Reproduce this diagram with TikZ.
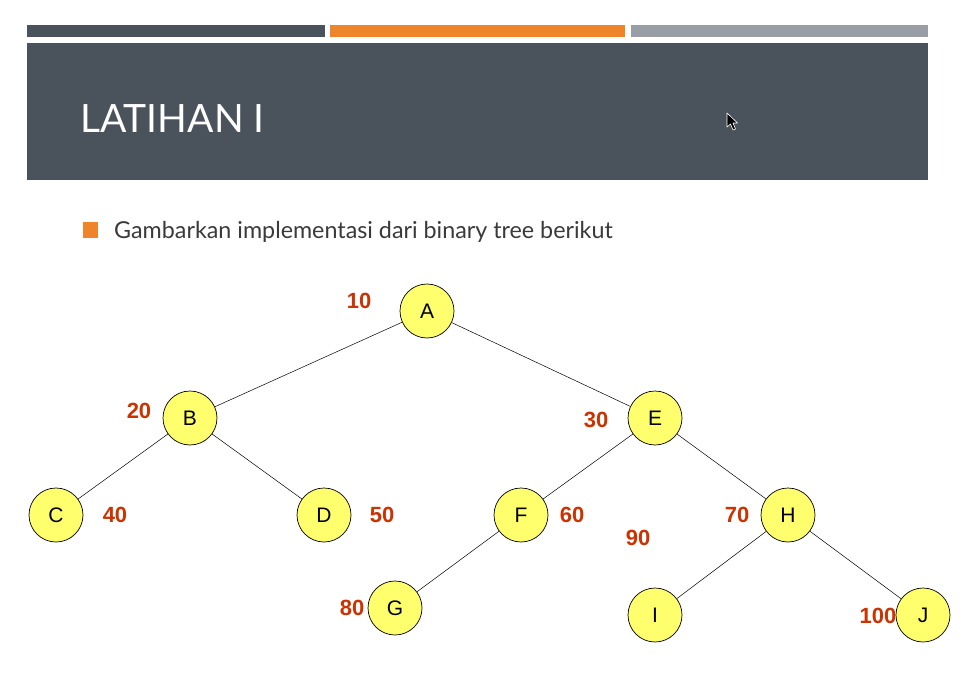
\documentclass[tikz,border=0pt]{standalone}
\usepackage{fontspec}
\setmainfont{Liberation Sans}
\newfontfamily\slidefont{Lato}
\definecolor{slatedark}{HTML}{4A535B}
\definecolor{accentorange}{HTML}{EE852A}
\definecolor{barsgray}{HTML}{989DA6}
\definecolor{bodytext}{HTML}{3A3A3A}
\definecolor{nodeyellow}{HTML}{FFFF6E}
\definecolor{keyred}{HTML}{CC3300}
\begin{document}
\begin{tikzpicture}[x=1pt,y=-1pt,
  treenode/.style={circle, draw=black, line width=0.7pt, fill=nodeyellow,
    minimum size=54pt, inner sep=0pt, font=\fontsize{21}{21}\selectfont},
  keylabel/.style={text=keyred, inner sep=0pt, font=\fontsize{22}{22}\selectfont\bfseries},
  treeedge/.style={draw=black, line width=0.5pt}]
\useasboundingbox (0,0) rectangle (961,687);
\fill[white] (0,0) rectangle (961,687);

% header bars
\fill[slatedark] (27,25) rectangle (325,37);
\fill[accentorange] (330,25) rectangle (625,37);
\fill[barsgray] (631,25) rectangle (928,37);
\fill[slatedark] (27,43) rectangle (928,180);
\node[anchor=base west, inner sep=0pt, text=white,
  font=\slidefont\fontsize{39}{39}\selectfont] (title) at (80,133) {LATIHAN I};

% pointer
\draw[white, fill=black, line width=0.6pt, line join=round]
  (727,113) -- (727,127) -- (730.5,124) -- (733,130) -- (735.5,129) -- (733,123) -- (737.5,123) -- cycle;

% bullet line
\fill[accentorange] (83,222) rectangle (98,238);
\node[anchor=base west, inner sep=0pt, text=bodytext,
  font=\slidefont\fontsize{23.3}{23.3}\selectfont] (task) at (114,238) {Gambarkan implementasi dari binary tree berikut};

% tree
\node[treenode] (A) at (427,311) {A};
\node[treenode] (B) at (190,418) {B};
\node[treenode] (E) at (655,418) {E};
\node[treenode] (C) at (56,515) {C};
\node[treenode] (D) at (324,515) {D};
\node[treenode] (F) at (521,515) {F};
\node[treenode] (H) at (788,515) {H};
\node[treenode] (G) at (395,608) {G};
\node[treenode] (I) at (655,615) {I};
\node[treenode] (J) at (923,615) {J};

\draw[treeedge] (A) -- (B);
\draw[treeedge] (A) -- (E);
\draw[treeedge] (B) -- (C);
\draw[treeedge] (B) -- (D);
\draw[treeedge] (E) -- (F);
\draw[treeedge] (E) -- (H);
\draw[treeedge] (F) -- (G);
\draw[treeedge] (H) -- (I);
\draw[treeedge] (H) -- (J);

% key values
\node[keylabel] (kA) at (359,301) {10};
\node[keylabel] (kB) at (139,411) {20};
\node[keylabel] (kE) at (596,420) {30};
\node[keylabel] (kC) at (115,515) {40};
\node[keylabel] (kD) at (382,515) {50};
\node[keylabel] (kF) at (572,515) {60};
\node[keylabel] (kH) at (737,515) {70};
\node[keylabel] (kX) at (638,538) {90};
\node[keylabel] (kG) at (352,608) {80};
\node[keylabel] (kJ) at (878,616) {100};
\end{tikzpicture}
\end{document}
